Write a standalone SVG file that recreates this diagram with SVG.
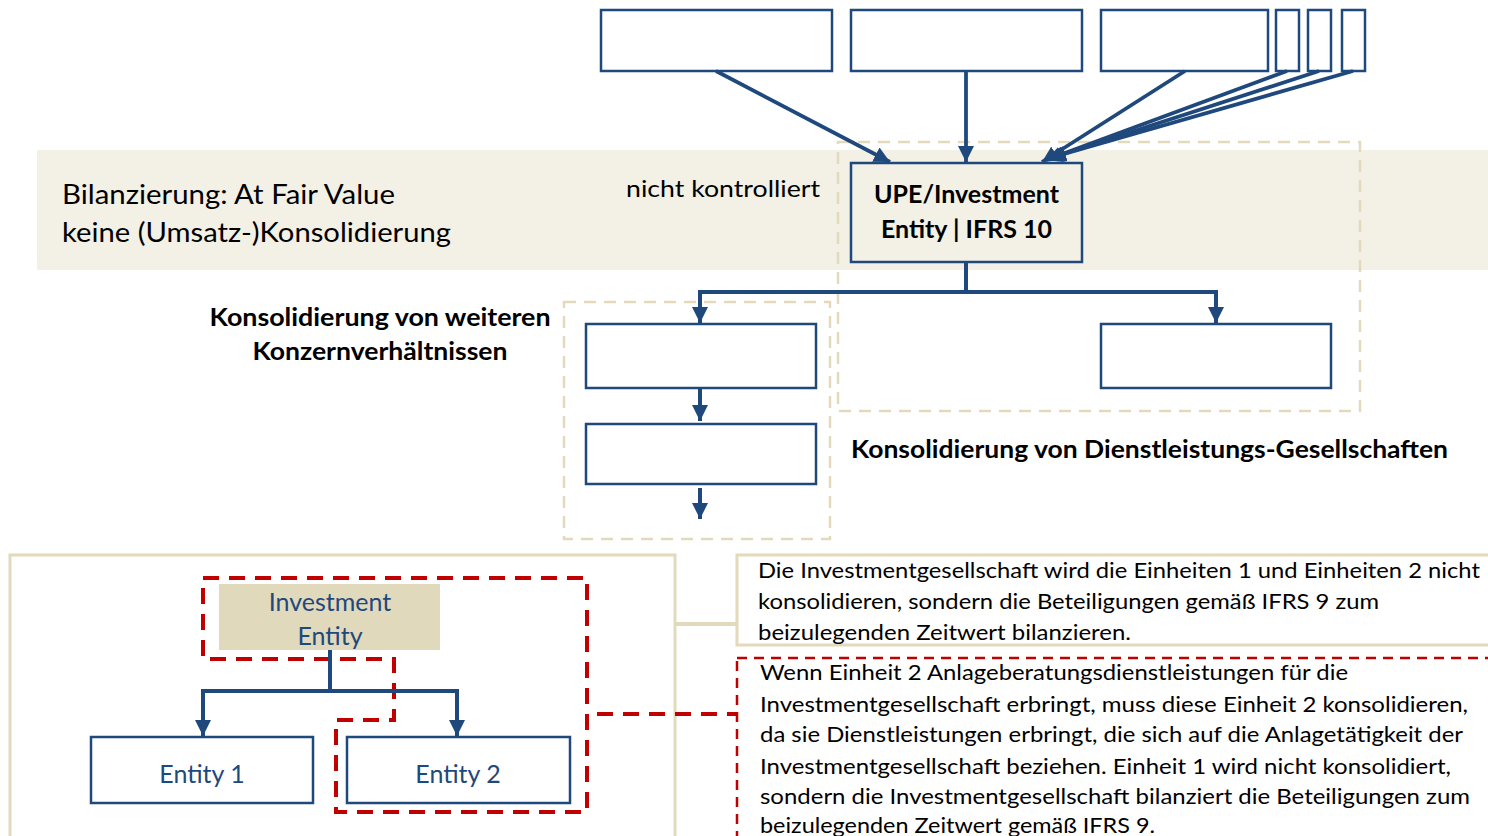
<svg xmlns="http://www.w3.org/2000/svg" width="1488" height="836" viewBox="0 0 1488 836">
  <style>
    .box { fill: #ffffff; stroke: #1F497D; stroke-width: 2.5; }
    .link { fill: none; stroke: #1F497D; stroke-width: 3.8; }
    .tree { fill: none; stroke: #1F497D; stroke-width: 4; }
    .zone { fill: none; stroke: #E2DABB; stroke-width: 2.5; stroke-dasharray: 12 8; }
    .panel { fill: #ffffff; stroke: #E2DABB; stroke-width: 3; }
    .redzone { fill: none; stroke: #C00000; stroke-width: 4; stroke-dasharray: 16 10; }
    .redbox { fill: none; stroke: #C00000; stroke-width: 2.5; stroke-dasharray: 10 7; }
    text { font-family: Lato, "Open Sans", "Liberation Sans", sans-serif; fill: #000000; }
    .body { font-size: 22px; }
    .big { font-size: 26px; }
    .mid { font-size: 24px; }
    .bold { font-weight: bold; font-size: 24px; }
    .title { font-weight: bold; font-size: 25px; }
    .blue { fill: #1F497D; font-size: 25px; }
  </style>
  <defs>
    <marker id="head" markerUnits="userSpaceOnUse" markerWidth="16" markerHeight="16" refX="16" refY="8" orient="auto">
      <path d="M0,0 L16,8 L0,16 z" fill="#1F497D"/>
    </marker>
  </defs>

  <!-- fair value band -->
  <rect x="37" y="150" width="1451" height="120" fill="#F3F0E5"/>

  <!-- dashed consolidation zones -->
  <rect class="zone" x="838" y="142" width="522" height="269"/>
  <rect class="zone" x="564" y="302" width="266" height="237"/>

  <!-- band labels -->
  <g id="band-text">
    <text class="big" x="62" y="204" textLength="333" lengthAdjust="spacingAndGlyphs">Bilanzierung: At Fair Value</text>
    <text class="big" x="62" y="242" textLength="389" lengthAdjust="spacingAndGlyphs">keine (Umsatz-)Konsolidierung</text>
    <text class="mid" x="626" y="197" textLength="194" lengthAdjust="spacingAndGlyphs">nicht kontrolliert</text>
  </g>

  <!-- owners above the UPE -->
  <g id="owner-1"><rect class="box" x="601" y="10" width="231" height="61"/></g>
  <g id="owner-2"><rect class="box" x="851" y="10" width="231" height="61"/></g>
  <g id="owner-3"><rect class="box" x="1101" y="10" width="167" height="61"/></g>
  <g id="owner-4"><rect class="box" x="1276" y="10" width="23" height="61"/></g>
  <g id="owner-5"><rect class="box" x="1308" y="10" width="23" height="61"/></g>
  <g id="owner-6"><rect class="box" x="1342" y="10" width="23" height="61"/></g>

  <!-- ultimate parent / investment entity -->
  <g id="upe">
    <rect x="851" y="163" width="231" height="99" fill="#F3F0E5" stroke="#1F497D" stroke-width="2.5"/>
    <text class="title" x="966.5" y="203" text-anchor="middle">UPE/Investment</text>
    <text class="title" x="966.5" y="238" text-anchor="middle">Entity | IFRS 10</text>
  </g>

  <!-- group subsidiaries and service company -->
  <g id="sub-1"><rect class="box" x="586" y="324" width="230" height="64"/></g>
  <g id="sub-2"><rect class="box" x="586" y="424" width="230" height="60"/></g>
  <g id="service"><rect class="box" x="1101" y="324" width="230" height="64"/></g>

  <g id="zone-labels">
    <text class="bold" x="380" y="326" text-anchor="middle" textLength="341" lengthAdjust="spacingAndGlyphs">Konsolidierung von weiteren</text>
    <text class="bold" x="380" y="360" text-anchor="middle" textLength="255" lengthAdjust="spacingAndGlyphs">Konzernverhältnissen</text>
    <text class="bold" x="851" y="458" textLength="597" lengthAdjust="spacingAndGlyphs">Konsolidierung von Dienstleistungs-Gesellschaften</text>
  </g>

  <!-- example panel -->
  <g id="example-panel">
    <rect class="panel" x="10" y="555" width="665" height="284"/>
  </g>
  <g id="investment-entity">
    <rect x="219" y="584" width="221" height="66" fill="#E0D9BC"/>
    <text class="blue" x="330" y="611" text-anchor="middle">Investment</text>
    <text class="blue" x="330" y="645" text-anchor="middle">Entity</text>
  </g>
  <g id="entity-1">
    <rect class="box" x="91" y="737" width="222" height="66"/>
    <text class="blue" x="202" y="783" text-anchor="middle">Entity 1</text>
  </g>
  <g id="entity-2">
    <rect class="box" x="347" y="737" width="223" height="66"/>
    <text class="blue" x="458" y="783" text-anchor="middle">Entity 2</text>
  </g>
  <g id="consolidated-scope">
    <path class="redzone" d="M203,578 H587 V812 H336 V720 H394 V659 H203 Z"/>
  </g>

  <!-- explanatory notes -->
  <g id="note-fair-value">
    <rect class="panel" x="737" y="555" width="760" height="90"/>
    <text class="body" x="758" y="578" textLength="722" lengthAdjust="spacingAndGlyphs">Die Investmentgesellschaft wird die Einheiten 1 und Einheiten 2 nicht</text>
    <text class="body" x="758" y="609" textLength="621" lengthAdjust="spacingAndGlyphs">konsolidieren, sondern die Beteiligungen gemäß IFRS 9 zum</text>
    <text class="body" x="758" y="640" textLength="373" lengthAdjust="spacingAndGlyphs">beizulegenden Zeitwert bilanzieren.</text>
  </g>
  <g id="note-services">
    <rect class="redbox" x="737" y="658" width="760" height="190"/>
    <text class="body" x="760" y="680" textLength="588" lengthAdjust="spacingAndGlyphs">Wenn Einheit 2 Anlageberatungsdienstleistungen für die</text>
    <text class="body" x="760" y="712" textLength="708" lengthAdjust="spacingAndGlyphs">Investmentgesellschaft erbringt, muss diese Einheit 2 konsolidieren,</text>
    <text class="body" x="760" y="742" textLength="703" lengthAdjust="spacingAndGlyphs">da sie Dienstleistungen erbringt, die sich auf die Anlagetätigkeit der</text>
    <text class="body" x="760" y="774" textLength="691" lengthAdjust="spacingAndGlyphs">Investmentgesellschaft beziehen. Einheit 1 wird nicht konsolidiert,</text>
    <text class="body" x="760" y="804" textLength="710" lengthAdjust="spacingAndGlyphs">sondern die Investmentgesellschaft bilanziert die Beteiligungen zum</text>
    <text class="body" x="760" y="833" textLength="395" lengthAdjust="spacingAndGlyphs">beizulegenden Zeitwert gemäß IFRS 9.</text>
  </g>

  <!-- connectors -->
  <g id="connectors">
    <line class="link" x1="716" y1="71" x2="890" y2="162" marker-end="url(#head)"/>
    <line class="link" x1="966" y1="71" x2="966" y2="162" marker-end="url(#head)"/>
    <line class="link" x1="1185" y1="71" x2="1042" y2="162" marker-end="url(#head)"/>
    <line class="link" x1="1287" y1="71" x2="1046" y2="160" marker-end="url(#head)"/>
    <line class="link" x1="1319" y1="71" x2="1048" y2="159" marker-end="url(#head)"/>
    <line class="link" x1="1353" y1="71" x2="1050" y2="158" marker-end="url(#head)"/>

    <line class="tree" x1="966" y1="262" x2="966" y2="292"/>
    <polyline class="tree" points="700,292 1216,292 1216,323" marker-end="url(#head)"/>
    <line class="tree" x1="700" y1="290" x2="700" y2="323" marker-end="url(#head)"/>
    <line class="tree" x1="700" y1="388" x2="700" y2="421" marker-end="url(#head)"/>
    <line class="tree" x1="700" y1="488" x2="700" y2="519" marker-end="url(#head)"/>

    <line class="tree" x1="330" y1="650" x2="330" y2="691"/>
    <polyline class="tree" points="203,691 457,691 457,736" marker-end="url(#head)"/>
    <line class="tree" x1="203" y1="689" x2="203" y2="736" marker-end="url(#head)"/>

    <line x1="675" y1="624" x2="737" y2="624" stroke="#E2DABB" stroke-width="4"/>
    <line x1="597" y1="714" x2="737" y2="714" stroke="#C00000" stroke-width="4" stroke-dasharray="16 10"/>
  </g>
</svg>
